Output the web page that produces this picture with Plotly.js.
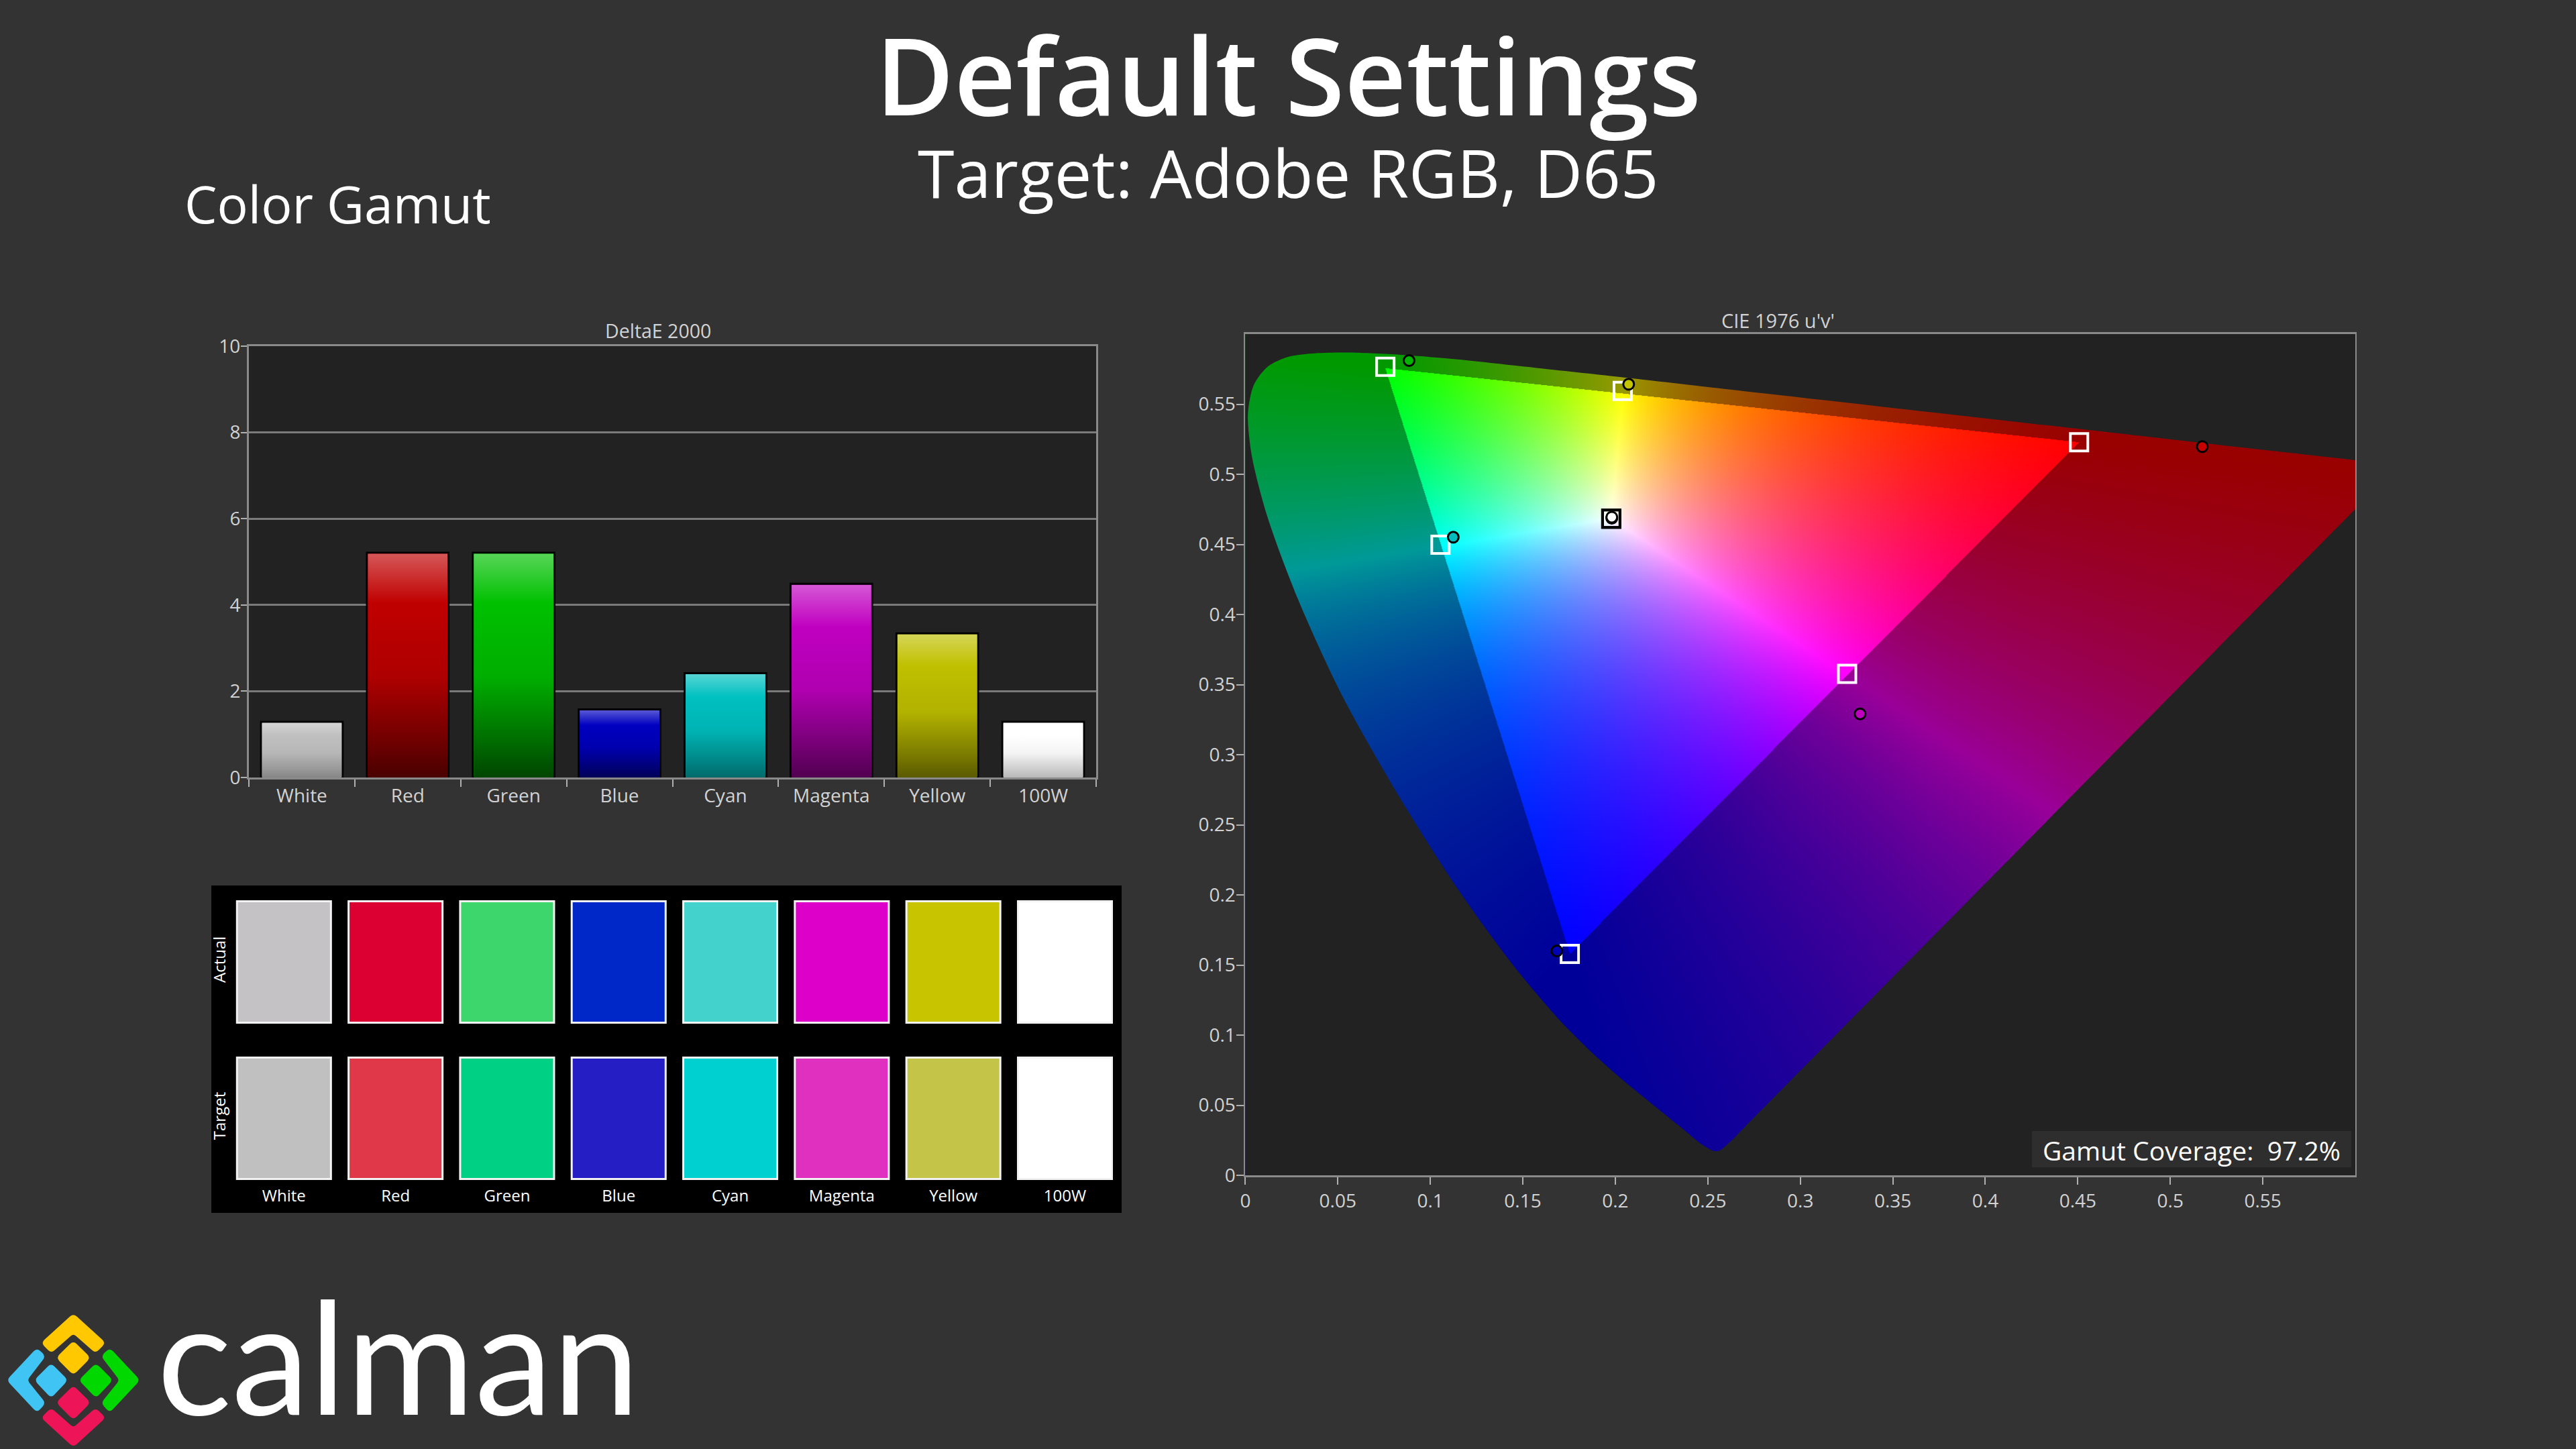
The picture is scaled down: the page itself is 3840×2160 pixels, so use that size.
<!DOCTYPE html>
<html>
<head>
<meta charset="utf-8">
<script src="https://cdn.plot.ly/plotly-3.0.1.min.js"></script>
<style>html,body{margin:0;padding:0;background:#333333}#chart{width:3840px;height:2160px}</style>
</head>
<body>
<div id="chart"></div>
<script>
// ---------- data ----------
const categories = ['White','Red','Green','Blue','Cyan','Magenta','Yellow','100W'];
const deltaE = [1.29,5.21,5.21,1.58,2.42,4.49,3.34,1.29];
const barColors = [[192,192,192],[192,0,0],[0,192,0],[0,0,192],[0,192,192],[192,0,192],[192,192,0],[255,255,255]];
const barFoot = [0.7,0.38,0.36,0.45,0.55,0.42,0.47,0.72];

const swatchActual = ['#c4c2c4','#dc0032','#3cd66c','#0028c8','#44d2cd','#dc00c8','#c8c400','#ffffff'];
const swatchTarget = ['#c0c0c0','#e03848','#00d084','#241ec4','#00d0d0','#e030c0','#c4c448','#ffffff'];

const actualU = [0.1981,0.5173,0.0885,0.1684,0.1124,0.3323,0.2072,0.1981];
const actualV = [0.4687,0.5197,0.5811,0.1600,0.4551,0.3291,0.5642,0.4694];
const targetU = [0.1978,0.4507,0.0757,0.1754,0.1055,0.3253,0.2040,0.1978];
const targetV = [0.4683,0.5229,0.5767,0.1579,0.4498,0.3576,0.5594,0.4683];
const actualColors = ['#9a9a9a','#c80000','#00b400','#0000b4','#00bcbc','#c000c0','#c4c400','#ffffff'];
const targetColors = ['#000000','#ffffff','#ffffff','#ffffff','#ffffff','#ffffff','#ffffff','#000000'];

const locusU = [0.0501,0.0643,0.0792,0.1127,0.1531,0.2026,0.2623,0.4035,0.5202,0.6000,0.6234,0.6180,0.6000,0.5000,0.4000,0.3000,0.2700,0.2620,0.2568,0.2540,0.2522,0.2461,0.2347,0.2161,0.2033,0.1877,0.1690,0.1441,0.1147,0.0828,0.0521,0.0282,0.0119,0.0035,0.0014,0.0046,0.0123,0.0231,0.0360];
const locusV = [0.5868,0.5865,0.5856,0.5822,0.5765,0.5694,0.5604,0.5394,0.5219,0.5101,0.5065,0.4993,0.4752,0.3417,0.2081,0.0746,0.0345,0.0238,0.0180,0.0172,0.0178,0.0226,0.0350,0.0549,0.0688,0.0871,0.1119,0.1510,0.2044,0.2708,0.3427,0.4117,0.4698,0.5131,0.5432,0.5638,0.5770,0.5837,0.5861];

const gamutTicks = [0,0.05,0.1,0.15,0.2,0.25,0.3,0.35,0.4,0.45,0.5,0.55];
const gamutTickText = ['0','0.05','0.1','0.15','0.2','0.25','0.3','0.35','0.4','0.45','0.5','0.55'];
const deltaTicks = [0,2,4,6,8,10];

// ---------- page geometry ----------
const W = 3840, H = 2160;
const fx = p => p / W, fy = p => 1 - p / H;
const BG = '#333333', PLOT = '#222222', FRAME = '#8a8a8a', TICKTXT = '#d2d2d2';
const FONT = '"Open Sans"';

// chromaticity field painted on a canvas and placed through the gamut axes
function gamutField(w, h) {
  const c = document.createElement('canvas'); c.width = w; c.height = h;
  const ctx = c.getContext('2d'); const img = ctx.createImageData(w, h); const d = img.data;
  const M = [[2.041369,-0.5649464,-0.3446944],[-0.969266,1.8760108,0.041556],[0.0134474,-0.1183897,1.0154096]];
  const DIM = 0.6;
  for (let j = 0; j < h; j++) {
    const v = 0.6 * (1 - (j + 0.5) / h);
    for (let i = 0; i < w; i++) {
      const u = 0.6 * (i + 0.5) / w;
      const den = 6*u - 16*v + 12, x = 9*u/den, y = Math.max(4*v/den, 1e-4);
      const X = x/y, Y = 1, Z = (1-x-y)/y;
      let r = M[0][0]*X+M[0][1]*Y+M[0][2]*Z, g = M[1][0]*X+M[1][1]*Y+M[1][2]*Z, b = M[2][0]*X+M[2][1]*Y+M[2][2]*Z;
      const outside = r < 0 || g < 0 || b < 0;
      r = Math.max(r,0); g = Math.max(g,0); b = Math.max(b,0);
      const m = Math.max(r,g,b,1e-6), k = 255 * (outside ? DIM : 1);
      const o = 4*(j*w+i);
      d[o] = k*r/m; d[o+1] = k*g/m; d[o+2] = k*b/m; d[o+3] = 255;
    }
  }
  ctx.putImageData(img,0,0);
  return c.toDataURL('image/png');
}

// ---------- logo geometry ----------
const logoPieces = [
  {c:'#ffc800', p:[[175,118],[250,245],[228,288],[175,200],[122,288],[100,245]]},
  {c:'#ffc800', p:[[175,240],[214,312],[175,386],[136,312]]},
  {c:'#40c4f4', p:[[18,412],[88,272],[107,305],[63,412],[107,515],[88,553]]},
  {c:'#40c4f4', p:[[122,340],[160,412],[122,488],[84,412]]},
  {c:'#00d800', p:[[229,340],[267,412],[229,488],[190,412]]},
  {c:'#00d800', p:[[332,412],[262,272],[243,305],[287,412],[243,515],[262,553]]},
  {c:'#ee1458', p:[[175,440],[214,512],[175,586],[136,512]]},
  {c:'#ee1458', p:[[175,708],[250,580],[228,540],[175,628],[122,540],[100,580]]}
];
function logoPath(pts) {
  const P = pts.map(q => [q[0]/1.6, 1920+q[1]/3]); const n = P.length; let s = '';
  const r = 6;
  for (let i = 0; i < n; i++) {
    const a = P[(i+n-1)%n], b = P[i], e = P[(i+1)%n];
    const la = Math.hypot(a[0]-b[0],a[1]-b[1]), le = Math.hypot(e[0]-b[0],e[1]-b[1]);
    const s1 = [b[0]+(a[0]-b[0])*r/la, b[1]+(a[1]-b[1])*r/la], s2 = [b[0]+(e[0]-b[0])*r/le, b[1]+(e[1]-b[1])*r/le];
    s += (i?'L':'M')+fx(s1[0])+','+fy(s1[1])+' Q'+fx(b[0])+','+fy(b[1])+' '+fx(s2[0])+','+fy(s2[1])+' ';
  }
  return s+'Z';
}

// ---------- traces ----------
const traces = [];
const BARW = 0.77;
const idx = categories.map((_, i) => i);

traces.push({type:'bar', x:idx, y:deltaE, width:BARW, xaxis:'x', yaxis:'y', hoverinfo:'skip',
  marker:{color:barColors.map(c=>`rgb(${c.join(',')})`), line:{color:'#000000', width:3}}});

// vertical gradient over each bar
function shade(c, k){ return `rgb(${c.map(v=>Math.round(v*k)).join(',')})`; }
function tint(c, t){ return `rgb(${c.map(v=>Math.round(v+(255-v)*t)).join(',')})`; }
deltaE.forEach((val, i) => {
  const c = barColors[i], f = barFoot[i], hw = BARW/2 - 0.009, top = val - 0.025;
  traces.push({type:'scatter', mode:'lines', x:[i-hw,i+hw,i+hw,i-hw,i-hw], y:[0,0,top,top,0], xaxis:'x', yaxis:'y',
    line:{width:0}, fill:'toself', hoverinfo:'skip',
    fillgradient:{type:'vertical', start:0, stop:top,
      colorscale:[[0,shade(c,f)],[0.15,shade(c,f+(1-f)*0.3)],[0.45,shade(c,f+(1-f)*0.85)],[0.78,shade(c,1)],[1,tint(c,0.34)]]}});
});

// everything outside the spectral locus is masked with the plot colour
const far = 6;
traces.push({type:'scatter', mode:'lines', xaxis:'x2', yaxis:'y2', hoverinfo:'skip',
  x:[-far,-far,far,far,-far,null].concat(locusU.slice().reverse(), [locusU[locusU.length-1]]),
  y:[-far,far,far,-far,-far,null].concat(locusV.slice().reverse(), [locusV[locusV.length-1]]),
  line:{width:0, shape:'spline', smoothing:0.8}, fill:'toself', fillcolor:PLOT});

traces.push({type:'scatter', mode:'markers', x:targetU, y:targetV, xaxis:'x2', yaxis:'y2', hoverinfo:'skip',
  marker:{symbol:'square', size:26, color:'rgba(0,0,0,0)', line:{color:targetColors, width:4}}});
traces.push({type:'scatter', mode:'markers', x:actualU, y:actualV, xaxis:'x2', yaxis:'y2', hoverinfo:'skip',
  marker:{symbol:'circle', size:16, color:actualColors, line:{color:'#000000', width:3}}});

// swatches
const ROW = 1.269;
[[swatchTarget,0],[swatchActual,ROW]].forEach(([cols,base]) => {
  traces.push({type:'bar', x:idx, y:cols.map(()=>0.985), base:cols.map(()=>base+0.0075), width:0.842,
    xaxis:'x3', yaxis:'y3', hoverinfo:'skip', marker:{color:cols, line:{color:'#f2f2f2', width:3}}});
});

// ---------- layout ----------
const tickFont = {family:FONT, size:28, color:TICKTXT};
const note = (text,x,y,size,opts={}) => Object.assign({text, x:fx(x), y:fy(y), xref:'paper', yref:'paper', showarrow:false,
  xanchor:'center', yanchor:'middle', font:{family:FONT, size, color:'#ffffff'}}, opts);

const layout = {
  width:W, height:H, autosize:false, margin:{l:0,r:0,t:0,b:0}, showlegend:false, barmode:'overlay',
  paper_bgcolor:BG, plot_bgcolor:PLOT, font:{family:FONT},
  xaxis:{domain:[fx(371),fx(1634)], range:[-0.5,7.5], anchor:'y', tickvals:idx, ticktext:categories, ticks:'', ticklen:10,
    tickfont:tickFont, showgrid:false, zeroline:false, showline:true, mirror:true, linecolor:FRAME, linewidth:3,
    minor:{tickmode:'array', tickvals:[-0.5,0.5,1.5,2.5,3.5,4.5,5.5,6.5,7.5], ticks:'outside', ticklen:11, tickwidth:2, tickcolor:'#b0b0b0', showgrid:false}},
  yaxis:{domain:[fy(1159),fy(516)], range:[0,10], anchor:'x', tickvals:deltaTicks, ticks:'outside', ticklen:9, tickwidth:2, tickcolor:'#b0b0b0', ticklabelstandoff:-5,
    tickfont:tickFont, showgrid:true, gridcolor:'#7a7a7a', gridwidth:3, zeroline:false, showline:true, mirror:true, linecolor:FRAME, linewidth:3},
  xaxis2:{domain:[fx(1856.4),fx(3511)], range:[0,0.6], anchor:'y2', tickvals:gamutTicks, ticktext:gamutTickText, ticks:'outside', ticklen:11, tickwidth:2, tickcolor:'#b0b0b0',
    tickfont:tickFont, showgrid:false, zeroline:false, showline:true, mirror:true, linecolor:FRAME, linewidth:3},
  yaxis2:{domain:[fy(1752),fy(498)], range:[0,0.6], anchor:'x2', tickvals:gamutTicks, ticktext:gamutTickText, ticks:'outside', ticklen:11, tickwidth:2, tickcolor:'#b0b0b0', ticklabelstandoff:-4,
    tickfont:tickFont, showgrid:false, zeroline:false, showline:true, mirror:true, linecolor:FRAME, linewidth:2},
  xaxis3:{domain:[fx(350),fx(1660)], range:[-0.4408,7.436], anchor:'y3', tickvals:idx, ticktext:categories, ticks:'outside', ticklen:2, tickcolor:'rgba(0,0,0,0)',
    tickfont:{family:FONT, size:24, color:'#ffffff'}, showgrid:false, zeroline:false, showline:false},
  yaxis3:{domain:[fy(1759),fy(1342)], range:[0,2.269], anchor:'x3', tickvals:[0.5,ROW+0.5], ticktext:['Target','Actual'], tickangle:-90, ticks:'outside', ticklen:3, tickcolor:'rgba(0,0,0,0)',
    tickfont:{family:FONT, size:24, color:'#ffffff'}, showgrid:false, zeroline:false, showline:false},
  images:[{source:gamutField(1655,1253), xref:'x2', yref:'y2', x:0, y:0.6, sizex:0.6, sizey:0.6, sizing:'stretch', layer:'below', xanchor:'left', yanchor:'top'}],
  shapes:[
    {type:'rect', xref:'paper', yref:'paper', x0:fx(315), x1:fx(1672), y0:fy(1808), y1:fy(1320), fillcolor:'#000000', line:{width:0}, layer:'below'},
    {type:'rect', xref:'paper', yref:'paper', x0:fx(3029), x1:fx(3505), y0:fy(1740), y1:fy(1686), fillcolor:'#2e2e2e', line:{width:0}, layer:'above'}
  ].concat(logoPieces.map(q=>({type:'path', xref:'paper', yref:'paper', path:logoPath(q.p), fillcolor:q.c, line:{width:2, color:q.c}, layer:'below'}))),
  annotations:[
    note('Default Settings',1920,110,160,{font:{family:FONT,size:160,color:'#ffffff',weight:600}}),
    note('Target: Adobe RGB, D65',1920,257,99),
    note('Color Gamut',273,304,77,{xanchor:'left'}),
    note('DeltaE 2000',981,493,28.5,{font:{family:FONT,size:28.5,color:'#d2d2d2'}}),
    note("CIE 1976 u'v'",2650,477,29,{font:{family:FONT,size:29,color:'#d2d2d2'}}),
    note('Gamut Coverage:  97.2%',3267,1714,39,{font:{family:FONT,size:39,color:'#ffffff'}}),
    note('calman',232,2019,233,{xanchor:'left', yanchor:'middle', height:270, valign:'middle', font:{family:'Lato',size:233,color:'#ffffff'}})
  ]
};

Plotly.newPlot('chart', traces, layout, {staticPlot:true, displayModeBar:false});
</script>
</body>
</html>
